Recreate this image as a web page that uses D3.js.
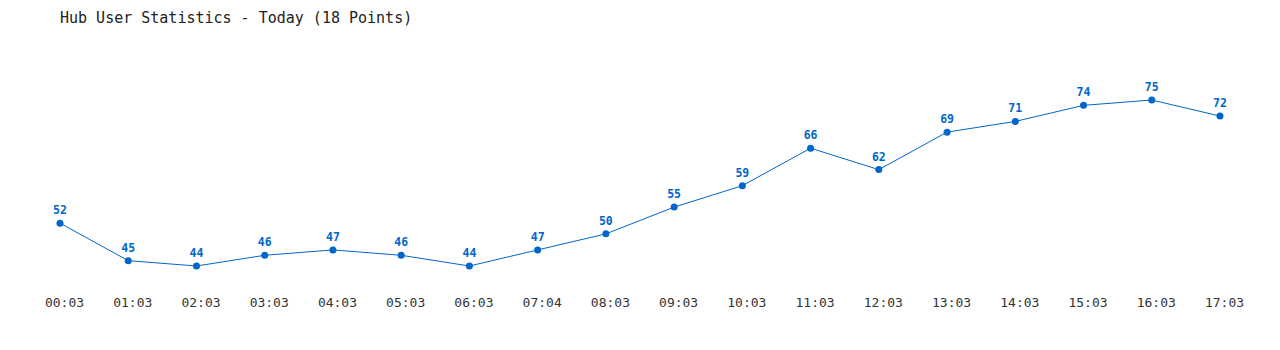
<!DOCTYPE html>
<html>
<head>
<meta charset="utf-8">
<script src="https://cdn.jsdelivr.net/npm/d3@7"></script>
<style>
  body { margin: 0; background: #fff; }
  svg text { font-family: "DejaVu Sans Mono", "Liberation Mono", monospace; }
</style>
</head>
<body>
<div id="chart"></div>
<script>
var TITLE = "Hub User Statistics - Today (18 Points)";
var times = ["00:03","01:03","02:03","03:03","04:03","05:03","06:03","07:04","08:03",
             "09:03","10:03","11:03","12:03","13:03","14:03","15:03","16:03","17:03"];
var users = [52,45,44,46,47,46,44,47,50,55,59,66,62,69,71,74,75,72];

var width = 1280, height = 350;
var svg = d3.select("#chart").append("svg")
  .attr("width", width)
  .attr("height", height);

var x = d3.scalePoint()
  .domain(times)
  .range([60, 1220]);

var y = d3.scaleLinear()
  .domain([d3.min(users), d3.max(users)])
  .range([266, 100]);

// title
svg.append("text")
  .attr("x", 60)
  .attr("y", 23)
  .attr("font-size", 15)
  .attr("fill", "#222")
  .text(TITLE);

// x axis labels only (sit a little right of the points)
var xAxis = svg.append("g")
  .attr("transform", "translate(4,298)")
  .call(d3.axisBottom(x).tickSize(0).tickPadding(0));
xAxis.select(".domain").remove();
xAxis.selectAll("text")
  .attr("font-size", 13)
  .attr("fill", "#333")
  .style("font-family", "\"DejaVu Sans Mono\", monospace");

var data = times.map(function(t, i){ return {t: t, v: users[i]}; });

var line = d3.line()
  .x(function(d){ return x(d.t); })
  .y(function(d){ return y(d.v); });

svg.append("path")
  .datum(data)
  .attr("fill", "none")
  .attr("stroke", "#0066cc")
  .attr("stroke-width", 1)
  .attr("d", line);

svg.selectAll("circle.pt")
  .data(data)
  .enter().append("circle")
  .attr("class", "pt")
  .attr("cx", function(d){ return x(d.t); })
  .attr("cy", function(d){ return y(d.v); })
  .attr("r", 3.5)
  .attr("fill", "#0066cc");

svg.selectAll("text.val")
  .data(data)
  .enter().append("text")
  .attr("class", "val")
  .attr("x", function(d){ return x(d.t); })
  .attr("y", function(d){ return y(d.v) - 9; })
  .attr("text-anchor", "middle")
  .attr("font-size", 11.5)
  .attr("font-weight", "bold")
  .attr("fill", "#0066cc")
  .text(function(d){ return d.v; });
</script>
</body>
</html>
